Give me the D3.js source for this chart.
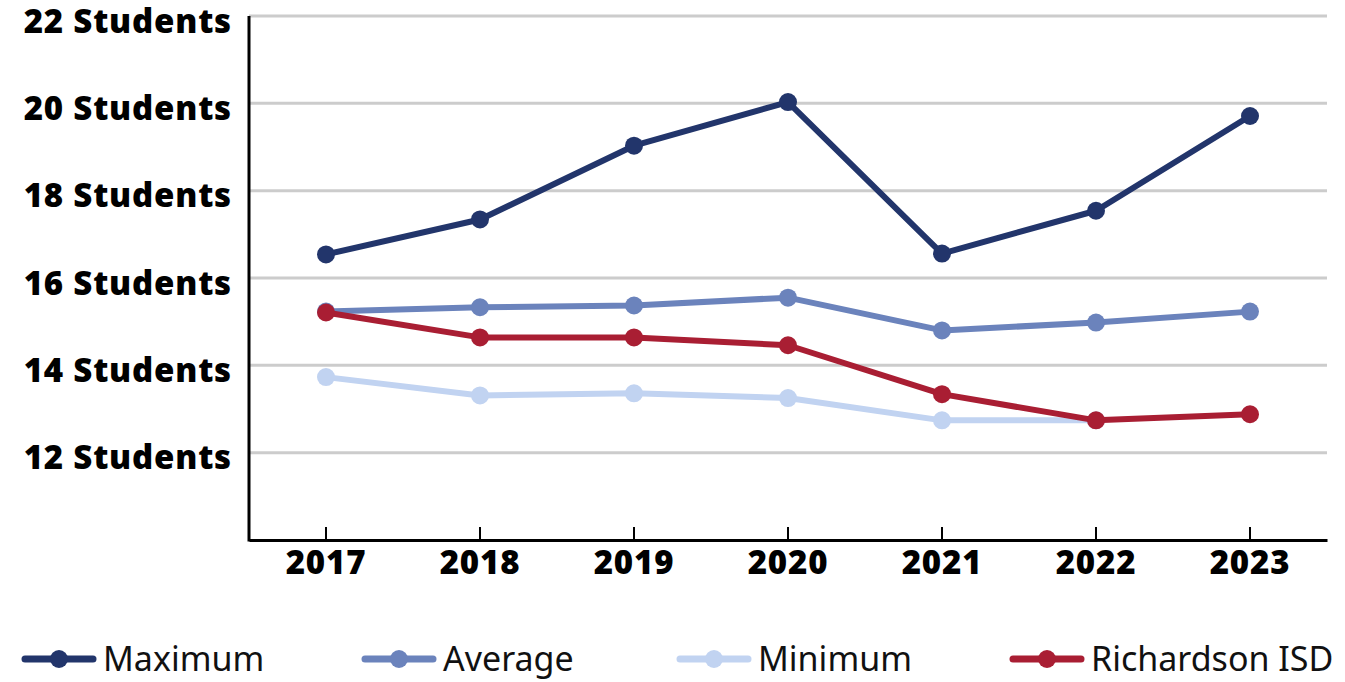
<!DOCTYPE html>
<html>
<head>
<meta charset="utf-8">
<script src="https://cdn.jsdelivr.net/npm/d3@7"></script>
<style>
  body { margin: 0; background: #fff; }
  svg { display: block; }
  .tick-label { font-family: "Open Sans", Lato, sans-serif; font-weight: 800; font-size: 33px; letter-spacing: 0.8px; fill: #000; }
  .legend-label { font-family: "Liberation Sans Narrow", "Noto Sans", sans-serif; font-size: 34px; fill: #111; }
</style>
</head>
<body>
<svg id="chart" width="1345" height="682"></svg>
<script>
// chart data
const years = ['2017', '2018', '2019', '2020', '2021', '2022', '2023'];
const maximum = [16.54, 17.34, 19.03, 20.03, 16.56, 17.54, 19.71];
const average = [15.23, 15.33, 15.37, 15.55, 14.8, 14.98, 15.23];
const minimum = [13.73, 13.31, 13.36, 13.25, 12.74, 12.74, null];
const richardson = [15.21, 14.64, 14.64, 14.46, 13.34, 12.74, 12.88];
const yTicks = [12, 14, 16, 18, 20, 22];

const series = [
  { name: 'Maximum', values: maximum, color: '#22356b' },
  { name: 'Average', values: average, color: '#6b83bc' },
  { name: 'Minimum', values: minimum, color: '#c1d3f1' },
  { name: 'Richardson ISD', values: richardson, color: '#a91e33' }
];

const svg = d3.select('#chart');
const plotLeft = 249, plotRight = 1327, plotTop = 16, plotBottom = 540;

const x = d3.scaleBand().domain(years).range([plotLeft, plotRight]);
const y = d3.scaleLinear().domain([10, 22]).range([plotBottom, plotTop]);

// grid lines
svg.append('g').selectAll('line')
  .data(yTicks)
  .enter().append('line')
  .attr('x1', plotLeft).attr('x2', plotRight)
  .attr('y1', d => y(d)).attr('y2', d => y(d))
  .attr('stroke', '#cccccc').attr('stroke-width', 3);

// y labels
svg.append('g').selectAll('text')
  .data(yTicks)
  .enter().append('text')
  .attr('class', 'tick-label')
  .attr('x', 232).attr('y', d => y(d) + 5)
  .attr('dy', '0.35em')
  .attr('text-anchor', 'end')
  .text(d => d + ' Students');

// x axis
const xAxis = svg.append('g').attr('transform', `translate(0,${plotBottom})`)
  .call(d3.axisBottom(x).tickSizeInner(-13).tickSizeOuter(0).tickPadding(11));
xAxis.select('.domain').attr('stroke', '#000').attr('stroke-width', 3);
xAxis.selectAll('.tick line').attr('stroke', '#000').attr('stroke-width', 2);
xAxis.selectAll('.tick text').attr('class', 'tick-label').attr('fill', null);

// y axis line
svg.append('line')
  .attr('x1', plotLeft).attr('x2', plotLeft)
  .attr('y1', plotTop).attr('y2', plotBottom + 1.5)
  .attr('stroke', '#000').attr('stroke-width', 3);

// series
const line = d3.line()
  .defined(d => d != null)
  .x((d, i) => x(years[i]) + x.bandwidth() / 2)
  .y(d => y(d));

const drawOrder = [series[2], series[1], series[3], series[0]];
drawOrder.forEach(s => {
  const g = svg.append('g');
  g.append('path')
    .datum(s.values)
    .attr('d', line)
    .attr('fill', 'none')
    .attr('stroke', s.color)
    .attr('stroke-width', 6)
    .attr('stroke-linejoin', 'round');
  g.selectAll('circle')
    .data(s.values.map((v, i) => ({ v, i })).filter(d => d.v != null))
    .enter().append('circle')
    .attr('cx', d => x(years[d.i]) + x.bandwidth() / 2)
    .attr('cy', d => y(d.v))
    .attr('r', 9)
    .attr('fill', s.color);
});

// legend
const legendX = [25, 365, 680, 1013];
const legend = svg.append('g').selectAll('g')
  .data(series)
  .enter().append('g')
  .attr('transform', (d, i) => `translate(${legendX[i]},659)`);
legend.append('line')
  .attr('x1', 0).attr('x2', 68)
  .attr('stroke', d => d.color).attr('stroke-width', 7)
  .attr('stroke-linecap', 'round');
legend.append('circle')
  .attr('cx', 34).attr('r', 9)
  .attr('fill', d => d.color);
legend.append('text')
  .attr('class', 'legend-label')
  .attr('x', 78).attr('dy', '0.35em')
  .text(d => d.name);
</script>
</body>
</html>
